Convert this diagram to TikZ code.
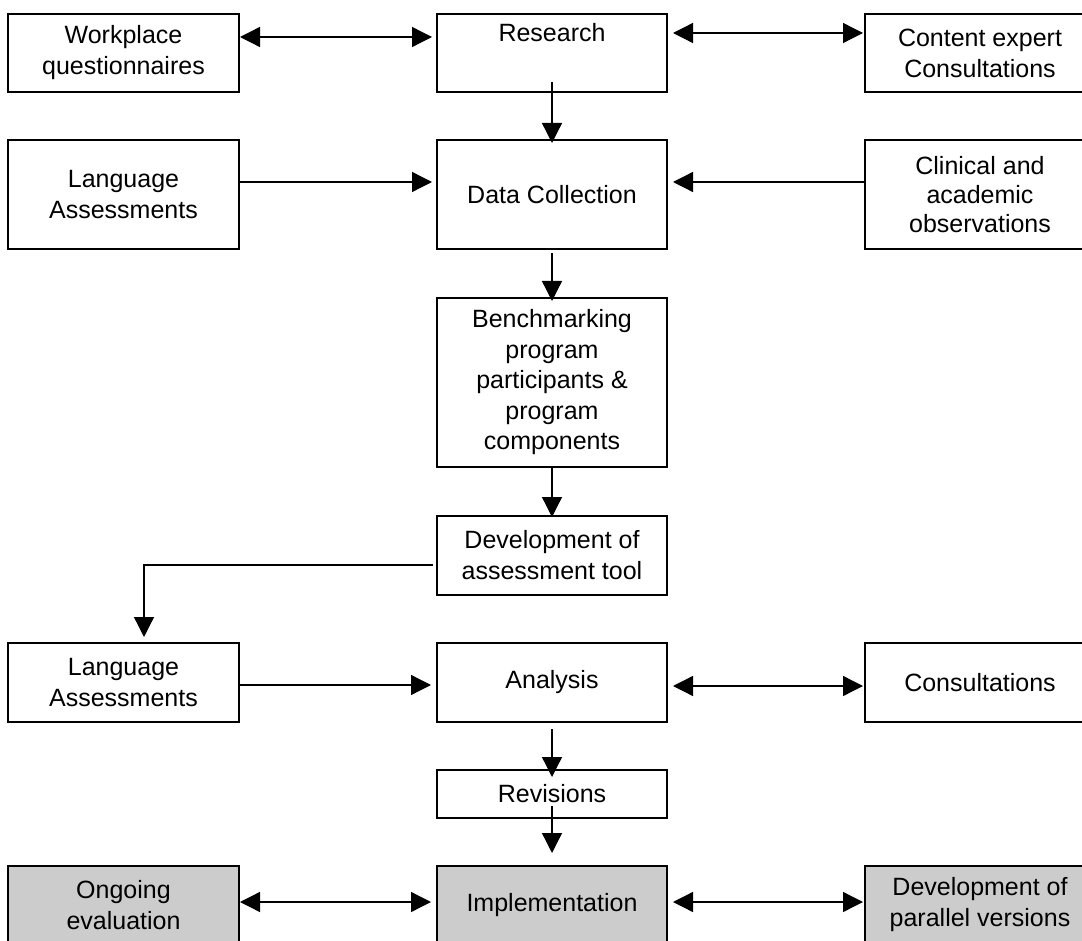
\documentclass[tikz,border=0pt]{standalone}
\usepackage{fontspec}
\setmainfont{Liberation Sans}
\usetikzlibrary{arrows.meta,calc}
\definecolor{boxgray}{HTML}{CCCCCC}
\begin{document}
\begin{tikzpicture}[x=1pt,y=-1pt,
  box/.style={draw=black,line width=1.8pt,rectangle,inner sep=0pt,outer sep=0pt,
    align=center,font=\fontsize{25}{31}\selectfont,fill=white},
  grey/.style={box,fill=boxgray},
  conn/.style={line width=1.3pt,-{Triangle[length=20pt,width=20pt]}},
  dbl/.style={line width=1.3pt,{Triangle[length=20pt,width=20pt]}-{Triangle[length=20pt,width=20pt]}}]
\useasboundingbox (0,0) rectangle (1082,941);
\clip (0,0) rectangle (1082,941);
% row 1
\node[box,minimum width=231pt,minimum height=78pt] (wq) at (123.5,53) {Workplace\\questionnaires};
\node[box,minimum width=230pt,minimum height=78pt] (res) at (552,53) {Research\\\strut};
\node[box,minimum width=230pt,minimum height=78pt] (ce) at (980,53) {Content expert\\Consultations};
% row 2
\node[box,minimum width=231pt,minimum height=109pt] (la1) at (123.5,194.5) {Language\\Assessments};
\node[box,minimum width=230pt,minimum height=109pt] (dc) at (552,194.5) {Data Collection};
\node[box,minimum width=230pt,minimum height=109pt,font=\fontsize{25}{29}\selectfont] (cl) at (980,194.5) {Clinical and\\academic\\observations};
% middle column
\node[box,minimum width=230pt,minimum height=169pt,font=\fontsize{25}{30.5}\selectfont] (bm) at (552,382.5) {Benchmarking\\program\\participants \&\\program\\components};
\node[box,minimum width=230pt,minimum height=79pt] (dev) at (552,555.5) {Development of\\assessment tool};
% analysis row
\node[box,minimum width=231pt,minimum height=79pt] (la2) at (123.5,682.5) {Language\\Assessments};
\node[box,minimum width=230pt,minimum height=79pt] (an) at (552,682.5) {Analysis};
\node[box,minimum width=230pt,minimum height=79pt] (con) at (980,682.5) {Consultations};
\node[box,minimum width=230pt,minimum height=48pt] (rev) at (552,794) {Revisions};
% bottom row
\node[grey,minimum width=231pt,minimum height=78pt] (og) at (123.5,905) {Ongoing\\evaluation};
\node[grey,minimum width=230pt,minimum height=78pt] (imp) at (552,905) {Implementation};
\node[grey,minimum width=230pt,minimum height=78pt] (par) at (980,905) {Development of\\parallel versions};
% connectors
\draw[dbl] ($(wq.north east)+(1,23)$) -- ($(res.north west)+(-5,23)$);
\draw[dbl] ($(res.north east)+(6,19)$) -- ($(ce.north west)+(-2,19)$);
\draw[conn] ($(la1.north east)+(0,42)$) -- ($(dc.north west)+(-5,42)$);
\draw[conn] ($(cl.north west)+(0,42)$) -- ($(dc.north east)+(6,42)$);
\draw[conn] ($(res.south)+(0,-10)$) -- ($(dc.north)+(0,3)$);
\draw[conn] ($(dc.south)+(0,4)$) -- ($(bm.north)+(0,3)$);
\draw[conn] (bm.south) -- ($(dev.north)+(0,1)$);
\draw[conn] ($(dev.west)+(-4,9.5)$) -| ($(la2.north)+(20.5,-6)$);
\draw[conn] ($(la2.east)+(0,2.5)$) -- ($(an.west)+(-6,2.5)$);
\draw[dbl] ($(an.east)+(6,3.5)$) -- ($(con.west)+(-2,3.5)$);
\draw[conn] ($(an.south)+(0,7)$) -- ($(rev.north)+(0,7)$);
\draw[conn] ($(rev.south)+(0,-12)$) -- ($(imp.north)+(0,-13)$);
\draw[dbl] ($(og.east)+(1,-3)$) -- ($(imp.west)+(-6,-3)$);
\draw[dbl] ($(imp.east)+(6,-3)$) -- ($(par.west)+(-2,-3)$);
\end{tikzpicture}
\end{document}
